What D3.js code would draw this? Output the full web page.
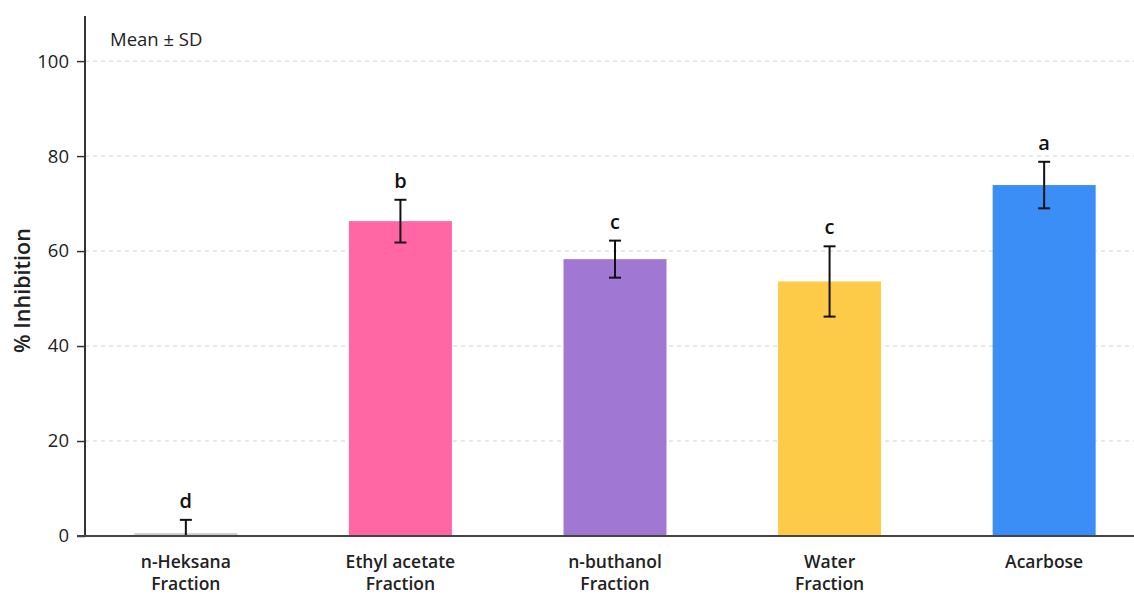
<!DOCTYPE html>
<html>
<head>
<meta charset="utf-8">
<script src="https://cdn.jsdelivr.net/npm/d3@7"></script>
<style>
  html, body { margin: 0; padding: 0; background: #fff; }
  svg { display: block; }
  .tick-label { font-family: "Open Sans", "Noto Sans", sans-serif; font-size: 18.5px; fill: #222; }
  .cat-label { font-family: "Open Sans", "Noto Sans", sans-serif; font-size: 17.5px; font-weight: 600; fill: #222; }
  .sig { font-family: "Open Sans", "Noto Sans", sans-serif; font-size: 20px; font-weight: 600; fill: #111; }
  .ytitle { font-family: "Open Sans", "Noto Sans", sans-serif; font-size: 21.5px; font-weight: 600; fill: #222; }
  .note { font-family: "Open Sans", "Noto Sans", sans-serif; font-size: 18.5px; fill: #222; }
</style>
</head>
<body>
<svg id="chart" width="1134" height="597"></svg>
<script>
// Alpha-glucosidase inhibition by fraction (mean ± SD)
const categories = ["n-Heksana Fraction", "Ethyl acetate Fraction", "n-buthanol Fraction", "Water Fraction", "Acarbose"];
const categoryLines = [["n-Heksana", "Fraction"], ["Ethyl acetate", "Fraction"], ["n-buthanol", "Fraction"], ["Water", "Fraction"], ["Acarbose"]];
const meanValues = [0.6, 66.3, 58.3, 53.6, 73.9];
const sdValues = [2.8, 4.5, 3.9, 7.4, 4.9];
const sigLetters = ["d", "b", "c", "c", "a"];
const barColors = ["#cbcbcb", "#ff66a3", "#a077d3", "#fdcb47", "#3a8ef6"];
const yTicks = [0, 20, 40, 60, 80, 100];
const yMax = 109.5;

const svg = d3.select("#chart");
const plotLeft = 85, plotRight = 1145, plotTop = 16, plotBottom = 536;

const x = d3.scaleBand().domain(categories).range([plotLeft, plotRight])
  .paddingInner(0.52).paddingOuter(0.23);
const y = d3.scaleLinear().domain([0, yMax]).range([plotBottom, plotTop]);

// Dashed horizontal gridlines
svg.append("g").selectAll("line")
  .data(yTicks.filter(d => d > 0))
  .join("line")
  .attr("x1", plotLeft).attr("x2", 1134)
  .attr("y1", d => y(d)).attr("y2", d => y(d))
  .attr("stroke", "#cfcfcf").attr("stroke-width", 1)
  .attr("stroke-dasharray", "4,4");

// Bars
svg.append("g").selectAll("rect")
  .data(categories)
  .join("rect")
  .attr("x", d => x(d))
  .attr("width", x.bandwidth())
  .attr("y", (d, i) => y(meanValues[i]))
  .attr("height", (d, i) => y(0) - y(meanValues[i]))
  .attr("fill", (d, i) => barColors[i]);

// Error bars (lower whisker clipped at the baseline)
const capHalf = 6;
const eb = svg.append("g").attr("stroke", "#111").attr("stroke-width", 2);
categories.forEach((c, i) => {
  const cx = x(c) + x.bandwidth() / 2;
  const hi = meanValues[i] + sdValues[i];
  const lo = Math.max(0, meanValues[i] - sdValues[i]);
  eb.append("line").attr("x1", cx).attr("x2", cx).attr("y1", y(hi)).attr("y2", y(lo));
  eb.append("line").attr("x1", cx - capHalf).attr("x2", cx + capHalf).attr("y1", y(hi)).attr("y2", y(hi));
  if (lo > 0) {
    eb.append("line").attr("x1", cx - capHalf).attr("x2", cx + capHalf).attr("y1", y(lo)).attr("y2", y(lo));
  }
  // Significance letter
  svg.append("text").attr("class", "sig")
    .attr("x", cx).attr("y", y(hi) - 12)
    .attr("text-anchor", "middle")
    .text(sigLetters[i]);
});

// Y axis
const yAxis = d3.axisLeft(y).tickValues(yTicks).tickSize(8).tickPadding(8).tickFormat(d3.format("d"));
const yg = svg.append("g").attr("transform", `translate(${plotLeft},0)`).call(yAxis);
yg.select(".domain").attr("stroke", "#333").attr("stroke-width", 2)
  .attr("d", `M0,${plotTop}V${plotBottom}`);
yg.selectAll(".tick line").attr("stroke", "#333").attr("stroke-width", 1.5);
yg.selectAll(".tick text").attr("class", "tick-label").attr("fill", "#222");

// X axis baseline
svg.append("line").attr("x1", plotLeft - 8).attr("x2", 1134)
  .attr("y1", y(0)).attr("y2", y(0))
  .attr("stroke", "#444").attr("stroke-width", 2);

// Category labels
const xl = svg.append("g");
categories.forEach((c, i) => {
  const cx = x(c) + x.bandwidth() / 2;
  const t = xl.append("text").attr("class", "cat-label")
    .attr("x", cx).attr("y", 568)
    .attr("text-anchor", "middle");
  categoryLines[i].forEach((ln, j) => {
    t.append("tspan").attr("x", cx).attr("dy", j === 0 ? 0 : 22).text(ln);
  });
});

// Y axis title
svg.append("text").attr("class", "ytitle")
  .attr("transform", `translate(30,${(y(0) + y(100)) / 2 - 8}) rotate(-90)`)
  .attr("text-anchor", "middle")
  .text("% Inhibition");

// Note
svg.append("text").attr("class", "note").attr("x", 110).attr("y", 46).text("Mean ± SD");
</script>
</body>
</html>
